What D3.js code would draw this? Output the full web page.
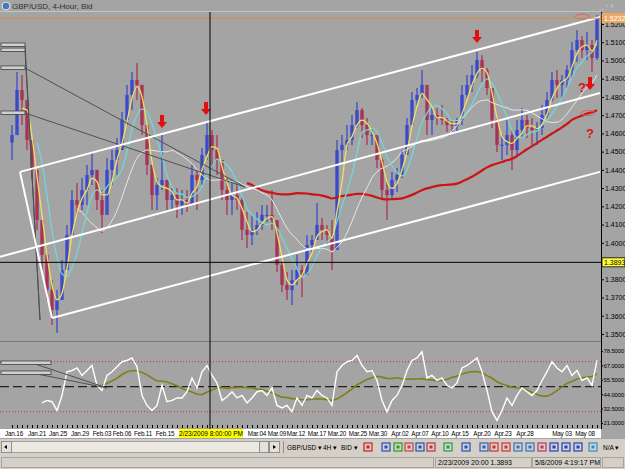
<!DOCTYPE html>
<html>
<head>
<meta charset="utf-8">
<script src="https://cdn.jsdelivr.net/npm/d3@7"></script>
<style>
body { margin: 0; background: #d4d0c8; overflow: hidden; }
text { font-family: "Liberation Sans", Arial, sans-serif; }
</style>
</head>
<body>
<script>
//price bars, one per bucket (about a day of 4-hour bars)
var highs = [1.4646,1.4937,1.4920,1.4728,1.4564,1.4372,1.4125,1.3934,1.3796,1.3742,
             1.3906,1.4098,1.4290,1.4328,1.4356,1.4427,1.4498,1.4400,1.4290,1.4465,
             1.4509,1.4575,1.4718,1.4866,1.4937,1.4986,1.4866,1.4591,1.4427,1.4356,
             1.4591,1.4345,1.4301,1.4301,1.4290,1.4290,1.4427,1.4400,1.4520,1.4663,
             1.4619,1.4591,1.4427,1.4356,1.4345,1.4334,1.4246,1.4169,1.4153,1.4169,
             1.4208,1.4208,1.4290,1.4114,1.3895,1.3840,1.3851,1.3934,1.3879,1.4043,
             1.4043,1.4219,1.4136,1.4098,1.4125,1.4564,1.4591,1.4646,1.4701,1.4772,
             1.4739,1.4685,1.4630,1.4564,1.4465,1.4334,1.4389,1.4411,1.4509,1.4685,
             1.4827,1.4849,1.4948,1.4783,1.4756,1.4739,1.4756,1.4685,1.4674,1.4685,
             1.4866,1.4920,1.4975,1.5046,1.5030,1.4959,1.4827,1.4685,1.4591,1.4674,
             1.4619,1.4674,1.4739,1.4701,1.4685,1.4663,1.4756,1.4827,1.4937,1.4948,
             1.4920,1.4975,1.5101,1.5167,1.5134,1.5156,1.5112,1.5249];
var lows = [1.4454,1.4619,1.4646,1.4509,1.4345,1.4071,1.3851,1.3687,1.3550,1.3506,
            1.3687,1.3851,1.4043,1.4153,1.4180,1.4208,1.4317,1.4180,1.4054,1.4235,
            1.4317,1.4372,1.4509,1.4646,1.4728,1.4783,1.4591,1.4372,1.4180,1.4180,
            1.4290,1.4180,1.4180,1.4136,1.4153,1.4169,1.4208,1.4180,1.4317,1.4454,
            1.4411,1.4372,1.4235,1.4153,1.4153,1.4180,1.4016,1.3972,1.3988,1.4043,
            1.4071,1.4114,1.4071,1.3840,1.3731,1.3687,1.3659,1.3769,1.3703,1.3851,
            1.3950,1.4016,1.4016,1.3988,1.3851,1.4180,1.4443,1.4509,1.4537,1.4630,
            1.4575,1.4537,1.4537,1.4411,1.4246,1.4125,1.4246,1.4279,1.4356,1.4482,
            1.4718,1.4756,1.4794,1.4591,1.4591,1.4646,1.4646,1.4608,1.4608,1.4608,
            1.4646,1.4794,1.4827,1.4904,1.4882,1.4811,1.4630,1.4498,1.4454,1.4482,
            1.4400,1.4482,1.4575,1.4575,1.4537,1.4537,1.4591,1.4685,1.4772,1.4794,
            1.4794,1.4849,1.4904,1.4992,1.5014,1.5003,1.4937,1.5003];
var closes = [1.4591,1.4838,1.4783,1.4564,1.4400,1.4125,1.3934,1.3742,1.3632,1.3687,
              1.3851,1.4043,1.4235,1.4208,1.4290,1.4372,1.4400,1.4235,1.4153,1.4400,
              1.4454,1.4509,1.4674,1.4811,1.4893,1.4866,1.4646,1.4427,1.4262,1.4317,
              1.4345,1.4235,1.4262,1.4208,1.4235,1.4208,1.4372,1.4345,1.4482,1.4591,
              1.4509,1.4454,1.4290,1.4235,1.4262,1.4235,1.4071,1.4043,1.4071,1.4098,
              1.4153,1.4153,1.4125,1.3879,1.3769,1.3742,1.3796,1.3851,1.3824,1.3988,
              1.4016,1.4098,1.4071,1.4043,1.3961,1.4509,1.4537,1.4564,1.4646,1.4728,
              1.4646,1.4591,1.4591,1.4454,1.4290,1.4262,1.4345,1.4372,1.4482,1.4646,
              1.4783,1.4811,1.4866,1.4674,1.4701,1.4685,1.4674,1.4646,1.4641,1.4674,
              1.4811,1.4866,1.4920,1.5003,1.4948,1.4849,1.4674,1.4537,1.4537,1.4591,
              1.4509,1.4619,1.4674,1.4630,1.4619,1.4630,1.4701,1.4783,1.4893,1.4866,
              1.4893,1.4948,1.5057,1.5112,1.5057,1.5085,1.5014,1.5232];

//oscillator (white line), starts at bucket 6
var oscStart = 6;
var osc = [37,39,38,31,
           43,62,63,65,59,63,67,51,47,59,
           62,66,70,71,73,66,43,35,31,35,
           51,38,39,41,41,46,57,49,62,67,
           59,53,39,42,46,41,43,37,41,46,
           47,43,49,35,33,35,30,41,35,43,
           41,47,43,41,35,62,67,70,71,75,
           67,62,63,55,39,30,39,43,51,63,
           71,73,78,57,59,55,57,51,49,53,
           65,67,70,73,62,47,30,23,31,41,
           35,43,49,46,43,47,55,62,70,65,
           62,67,59,63,55,57,51,71];

var priceTicks = [1.35,1.36,1.37,1.38,1.39,1.40,1.41,1.42,1.43,1.44,1.45,1.46,1.47,1.48,1.49,1.50,1.51,1.52];
var oscTicks = [78.5, 67, 55.5, 44, 32.5, 21];
var oscLevels = [70, 30];
var dateLabels = ["Jan.16","Jan.21","Jan.25","Jan.29","Feb.03","Feb.06","Feb.11","Feb.15",
                  "Mar.04","Mar.09","Mar.12","Mar.17","Mar.20","Mar.25","Mar.30","Apr.02",
                  "Apr.07","Apr.10","Apr.15","Apr.20","Apr.23","Apr.28","May 03","May 08"];
var dateIdx = [0.4,5,9.2,13.6,18,22,26.2,30.6,49,53,56.8,61,65,69.2,73.2,77.6,
               81.6,85.6,89.6,94,98.2,102.6,110,114.6];

var bidPrice = 1.5232;
var crossIdx = 39.6, crossPrice = 1.3893;
var crossDate = "2/23/2009 8:00:00 PM";

//drawn objects: [start idx, price] -> [end idx, price]
var channelLines = [[[1.6,1.4389],[117.6,1.5238]],
                    [[-2.4,1.3923],[117.6,1.4822]],
                    [[8,1.3588],[117.6,1.4389]],
                    [[1.6,1.4389],[8,1.3588]]];
var greyLines = [[[2.6,1.5085],[5.6,1.3577]],
                 [[2.6,1.5057],[5.6,1.3577]],
                 [[2.6,1.4959],[46.6,1.4306]],
                 [[2.6,1.4712],[46.6,1.4306]]];
var oscLines = [[[4,69],[19,49]], [[4,61],[19,49]]];
var arrows = [[30,1.4630],[38.8,1.4701],[93,1.5096],[115.6,1.4838]];
var questions = [[114,1.4827],[115.6,1.4575]];
var scribbles = [[114,1.5240],[115.2,1.4712]];

var W = 625, H = 469;
var svg = d3.select("body").append("svg").attr("width", W).attr("height", H);

var x = d3.scaleLinear().domain([0, 117]).range([12, 597]);
var y = d3.scaleLinear().domain([1.35, 1.52]).range([334, 24]);
var yo = d3.scaleLinear().domain([21, 78.5]).range([422.95, 351.1]);

//background
svg.append("rect").attr("width", W).attr("height", 439).attr("fill", "#a4a4a4");
svg.append("line").attr("x1", 0).attr("x2", 601).attr("y1", 11.5).attr("y2", 11.5).attr("stroke", "#c4c4c4");

//title
svg.append("circle").attr("cx", 6).attr("cy", 6).attr("r", 4).attr("fill", "#4a78b0").attr("stroke", "#e0e8f0");
svg.append("text").attr("x", 12).attr("y", 9).attr("font-size", "8px").attr("fill", "#303030")
   .text("GBP/USD, 4-Hour, Bid");
svg.append("text").attr("x", 600).attr("y", 8).attr("font-size", "7px").attr("fill", "#c8c8c8").text("_  ▫  x");

svg.append("defs").append("clipPath").attr("id", "main")
   .append("rect").attr("x", 0).attr("y", 12).attr("width", 601).attr("height", 329);
svg.select("defs").append("clipPath").attr("id", "osc")
   .append("rect").attr("x", 0).attr("y", 342).attr("width", 601).attr("height", 84);

var main = svg.append("g").attr("clip-path", "url(#main)");

//candles
var bars = closes.map(function(c, i) {
    var o = i > 0 ? closes[i - 1] : (highs[0] + lows[0]) / 2;
    return {i: i, o: o, c: c, h: highs[i], l: lows[i]};
});
bars.forEach(function(d) {
    var col = d.c >= d.o ? "#3444cc" : "#a82c50";
    main.append("line").attr("x1", x(d.i)).attr("x2", x(d.i))
        .attr("y1", y(d.h)).attr("y2", y(d.l)).attr("stroke", col).attr("stroke-width", 1.2);
    main.append("rect").attr("x", x(d.i) - 1.75).attr("width", 3.5)
        .attr("y", y(Math.max(d.o, d.c))).attr("height", Math.max(1, Math.abs(y(d.o) - y(d.c))))
        .attr("fill", col).attr("opacity", 0.85);
});

//moving averages
function sma(arr, n, start) {
    var out = [];
    for (var i = n - 1; i < arr.length; i++) {
        out.push([i + (start || 0), d3.mean(arr.slice(i - n + 1, i + 1))]);
    }
    return out;
}
var priceLine = d3.line().x(function(d) { return x(d[0]); }).y(function(d) { return y(d[1]); })
                  .curve(d3.curveMonotoneX);
var maStyles = [[48, "#cc1414", 2.2], [14, "#e8e8e8", 1], [6, "#70d8d8", 1.3], [3, "#f0e060", 1.3]];
maStyles.forEach(function(m) {
    main.append("path").attr("d", priceLine(sma(closes, m[0])))
        .attr("fill", "none").attr("stroke", m[1]).attr("stroke-width", m[2]);
});

//drawn trend lines
var segLine = d3.line().x(function(d) { return x(d[0]); }).y(function(d) { return y(d[1]); });
greyLines.forEach(function(s) {
    main.append("path").attr("d", segLine(s)).attr("stroke", "#505050").attr("stroke-width", 1).attr("fill", "none");
});
channelLines.forEach(function(s) {
    main.append("path").attr("d", segLine(s)).attr("stroke", "#ffffff").attr("stroke-width", 2).attr("fill", "none");
});
//line labels at the left edge
greyLines.forEach(function(s) {
    main.append("rect").attr("x", 1).attr("y", y(s[0][1]) - 2).attr("width", x(s[0][0]) - 1).attr("height", 3.5)
        .attr("fill", "#d0d0d0").attr("stroke", "#404040").attr("stroke-width", 0.8);
});

//arrows and marks
arrows.forEach(function(a) {
    var ax = x(a[0]), ay = y(a[1]);
    main.append("rect").attr("x", ax - 2).attr("y", ay - 13).attr("width", 4).attr("height", 7).attr("fill", "#e01010");
    main.append("path").attr("d", "M" + (ax - 5) + "," + (ay - 6) + "L" + (ax + 5) + "," + (ay - 6) + "L" + ax + "," + ay + "Z")
        .attr("fill", "#e01010");
});
questions.forEach(function(q) {
    main.append("text").attr("x", x(q[0])).attr("y", y(q[1])).attr("text-anchor", "middle")
        .attr("font-size", "13px").attr("font-weight", "bold").attr("fill", "#e01010").text("?");
});
scribbles.forEach(function(s) {
    main.append("ellipse").attr("cx", x(s[0])).attr("cy", y(s[1])).attr("rx", 7).attr("ry", 2.5)
        .attr("fill", "none").attr("stroke", "#e06060").attr("stroke-width", 1);
});

//bid line and crosshair
main.append("line").attr("x1", 0).attr("x2", 601).attr("y1", y(bidPrice)).attr("y2", y(bidPrice))
    .attr("stroke", "#e08a3c").attr("stroke-width", 1);
main.append("line").attr("x1", 0).attr("x2", 601).attr("y1", y(crossPrice)).attr("y2", y(crossPrice))
    .attr("stroke", "#000").attr("stroke-width", 1);

//panel separator
svg.append("line").attr("x1", 0).attr("x2", 601).attr("y1", 341.5).attr("y2", 341.5).attr("stroke", "#787878");

//oscillator panel
var og = svg.append("g").attr("clip-path", "url(#osc)");
oscLevels.forEach(function(v) {
    og.append("line").attr("x1", 0).attr("x2", 601).attr("y1", yo(v)).attr("y2", yo(v))
      .attr("stroke", "#c03030").attr("stroke-dasharray", "1,2");
});
og.append("line").attr("x1", 0).attr("x2", 601).attr("y1", yo(50)).attr("y2", yo(50))
  .attr("stroke", "#000").attr("stroke-dasharray", "9,4");
var oscLine = d3.line().x(function(d) { return x(d[0]); }).y(function(d) { return yo(d[1]); });
og.append("path").attr("d", oscLine(sma(osc, 13, oscStart)))
  .attr("fill", "none").attr("stroke", "#808018").attr("stroke-width", 1.6);
og.append("path").attr("d", oscLine(osc.map(function(v, i) { return [i + oscStart, v]; })))
  .attr("fill", "none").attr("stroke", "#ffffff").attr("stroke-width", 1.4);
oscLines.forEach(function(s) {
    og.append("path").attr("d", oscLine(s)).attr("stroke", "#505050").attr("fill", "none");
    og.append("rect").attr("x", 1).attr("y", yo(s[0][1]) - 2).attr("width", x(s[0][0]) + 18).attr("height", 3.5)
      .attr("fill", "#d0d0d0").attr("stroke", "#404040").attr("stroke-width", 0.8);
});

//vertical crosshair
svg.append("line").attr("x1", x(crossIdx)).attr("x2", x(crossIdx)).attr("y1", 12).attr("y2", 429)
   .attr("stroke", "#000").attr("stroke-width", 1);

//right axes
svg.append("line").attr("x1", 601.5).attr("x2", 601.5).attr("y1", 12).attr("y2", 429).attr("stroke", "#000");
var pAxis = svg.append("g").attr("transform", "translate(601,0)")
   .call(d3.axisRight(y).tickValues(priceTicks).tickFormat(d3.format(".4f")).tickSize(3).tickPadding(1));
var oAxis = svg.append("g").attr("transform", "translate(601,0)")
   .call(d3.axisRight(yo).tickValues(oscTicks).tickFormat(d3.format(".4f")).tickSize(2).tickPadding(0.5));
[pAxis, oAxis].forEach(function(a) {
    a.select(".domain").remove();
    a.selectAll("text").attr("font-size", "7px").attr("font-family", "Liberation Sans, Arial").attr("fill", "#000");
});
oAxis.selectAll("text").attr("font-size", "5.9px").attr("letter-spacing", "-0.1");

function priceBox(p, fill, stroke, tcol) {
    svg.append("rect").attr("x", 602).attr("y", y(p) - 4.5).attr("width", 23).attr("height", 9)
       .attr("fill", fill).attr("stroke", stroke).attr("stroke-width", 0.8);
    svg.append("text").attr("x", 604).attr("y", y(p) + 3).attr("font-size", "7px").attr("fill", tcol)
       .text(d3.format(".4f")(p));
}
priceBox(bidPrice, "#f0a860", "#f0a860", "#ffffff");
priceBox(crossPrice, "#ffff40", "#000", "#000");

//time axis
svg.append("g").attr("transform", "translate(0,425)")
   .call(d3.axisBottom(x).tickValues(d3.range(0, 118)).tickSize(3).tickFormat(""))
   .call(function(g) { g.select(".domain").remove(); g.selectAll("line").attr("stroke", "#000"); });
svg.append("rect").attr("x", 0).attr("y", 429).attr("width", 601).attr("height", 9).attr("fill", "#fff");
dateLabels.forEach(function(l, k) {
    svg.append("text").attr("x", x(dateIdx[k])).attr("y", 436).attr("text-anchor", "middle")
       .attr("font-size", "6.3px").attr("letter-spacing", "-0.15").attr("fill", "#000").text(l);
});
svg.append("rect").attr("x", x(crossIdx) - 31).attr("y", 429).attr("width", 64).attr("height", 9).attr("fill", "#ffff00");
svg.append("text").attr("x", x(crossIdx) + 1).attr("y", 436).attr("text-anchor", "middle")
   .attr("font-size", "6.5px").attr("fill", "#000").text(crossDate);

//toolbar
svg.append("rect").attr("x", 0).attr("y", 439).attr("width", W).attr("height", 17).attr("fill", "#d4d0c8");
svg.append("rect").attr("x", 1.5).attr("y", 441.5).attr("width", 278).attr("height", 11).attr("fill", "#ece9e2").attr("stroke", "#a0a0a0");
[[1.5, "M7,445L4,447L7,449Z"], [269.5, "M273,445L276,447L273,449Z"]].forEach(function(b) {
    svg.append("rect").attr("x", b[0]).attr("y", 441.5).attr("width", 10).attr("height", 11).attr("fill", "#e4e1da").attr("stroke", "#909090");
    svg.append("path").attr("d", b[1]).attr("fill", "#000");
});
svg.append("rect").attr("x", 259.5).attr("y", 441.5).attr("width", 9).attr("height", 11).attr("fill", "#e4e1da").attr("stroke", "#909090");
svg.append("line").attr("x1", 283.5).attr("x2", 283.5).attr("y1", 441).attr("y2", 453).attr("stroke", "#909090");
[["GBP/USD ▾", 287], ["4H ▾", 323], ["BID ▾", 341]].forEach(function(t) {
    svg.append("text").attr("x", t[1]).attr("y", 450).attr("font-size", "6.5px").attr("fill", "#000").text(t[0]);
});
svg.append("text").attr("x", 603).attr("y", 450).attr("font-size", "6.5px").attr("fill", "#000").text("N/A ▾");
var icons = [[364, "#d02020"], [382, "#2050c0"], [394, "#20a020"], [405, "#d04040"], [416, "#2050c0"], [427, "#c03040"],
             [444, "#20a040"], [462, "#2050c0"], [480, "#3060c0"], [490, "#d03030"], [502, "#d03030"],
             [514, "#3070c0"], [526, "#3070c0"], [538, "#c03060"], [550, "#2040c0"], [562, "#2040c0"],
             [574, "#2040c0"], [589, "#3090d0"]];
icons.forEach(function(ic) {
    svg.append("rect").attr("x", ic[0]).attr("y", 443).attr("width", 8).attr("height", 8)
       .attr("fill", "none").attr("stroke", ic[1]).attr("stroke-width", 1.2);
    svg.append("rect").attr("x", ic[0] + 2.5).attr("y", 445.5).attr("width", 3).attr("height", 3).attr("fill", ic[1]);
});

//status bar
svg.append("rect").attr("x", 0).attr("y", 456).attr("width", W).attr("height", 13).attr("fill", "#d4d0c8");
[[1.5, 432], [435.5, 96], [532.5, 68], [602.5, 21]].forEach(function(p) {
    svg.append("rect").attr("x", p[0]).attr("y", 457.5).attr("width", p[1]).attr("height", 10)
       .attr("fill", "none").attr("stroke", "#a8a49c");
});
svg.append("text").attr("x", 438).attr("y", 465).attr("font-size", "7px").attr("fill", "#000")
   .text("2/23/2009 20:00   " + d3.format(".4f")(crossPrice));
svg.append("text").attr("x", 535).attr("y", 465).attr("font-size", "7px").attr("fill", "#000")
   .text("5/8/2009 4:19:17 PM");
</script>
</body>
</html>
